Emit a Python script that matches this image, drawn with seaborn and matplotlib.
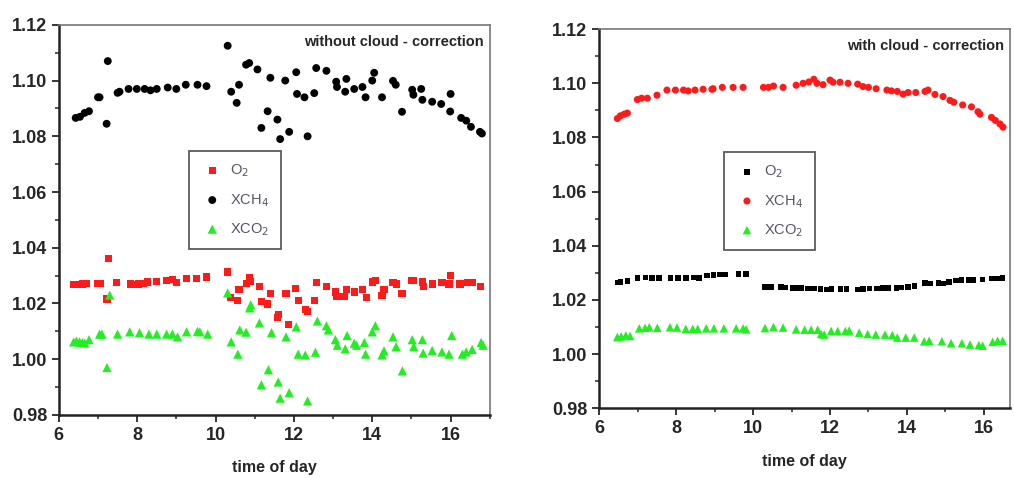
import numpy as np
import pandas as pd
import matplotlib.pyplot as plt
import seaborn as sns
from matplotlib.ticker import MultipleLocator, FormatStrFormatter

# ---- левая панель: без облачной коррекции ----
t_ch4_l = [6.43, 6.54, 6.66, 6.77, 7.0, 7.04, 7.25, 7.22, 7.5, 7.55, 7.78, 7.99, 8.19, 8.34,
           8.5, 8.78, 9.0, 9.24, 9.54, 9.77, 10.31, 10.4, 10.54, 10.6, 10.78, 10.86, 11.07,
           11.17, 11.33, 11.4, 11.58, 11.65, 11.78, 11.88, 12.06, 12.08, 12.27, 12.35, 12.52,
           12.57, 12.83, 13.08, 13.1, 13.31, 13.34, 13.54, 13.75, 13.83, 14.0, 14.05, 14.25,
           14.53, 14.6, 14.76, 15.02, 15.05, 15.25, 15.28, 15.53, 15.76, 15.99, 16.0, 16.27,
           16.4, 16.52, 16.75, 16.8]
ch4_l = [1.0866, 1.087, 1.0884, 1.089, 1.094, 1.094, 1.107, 1.0845, 1.0956, 1.096, 1.097,
         1.097, 1.097, 1.0965, 1.097, 1.0975, 1.097, 1.0985, 1.0985, 1.098, 1.1125, 1.096,
         1.092, 1.0985, 1.1057, 1.1063, 1.104, 1.083, 1.089, 1.101, 1.086, 1.079, 1.1,
         1.0816, 1.103, 1.0952, 1.094, 1.080, 1.0955, 1.1045, 1.1035, 1.0996, 1.0977, 1.096,
         1.1006, 1.097, 1.0977, 1.094, 1.1, 1.1028, 1.094, 1.0999, 1.0985, 1.0888, 1.0967,
         1.0949, 1.097, 1.0931, 1.0924, 1.0916, 1.0889, 1.0952, 1.0866, 1.0856, 1.0834,
         1.0816, 1.081]

t_o2_l = [6.38, 6.45, 6.53, 6.6, 6.7, 7.0, 7.06, 7.23, 7.28, 7.48, 7.83, 7.9, 8.04, 8.15,
          8.27, 8.5, 8.75, 8.9, 9.0, 9.26, 9.52, 9.77, 10.31, 10.38, 10.57, 10.6, 10.8, 10.87,
          10.9, 11.12, 11.17, 11.33, 11.4, 11.58, 11.6, 11.8, 11.86, 12.04, 12.11, 12.29,
          12.35, 12.52, 12.57, 12.83, 13.06, 13.1, 13.3, 13.34, 13.54, 13.75, 13.85, 14.0,
          14.08, 14.25, 14.3, 14.53, 14.61, 14.76, 15.0, 15.06, 15.28, 15.3, 15.53, 15.78,
          15.96, 16.0, 16.24, 16.43, 16.56, 16.77]
o2_l = [1.0267, 1.0267, 1.0268, 1.027, 1.0272, 1.0272, 1.0272, 1.0216, 1.036, 1.0274,
        1.027, 1.0268, 1.027, 1.0272, 1.0277, 1.028, 1.0282, 1.0285, 1.0274, 1.0291, 1.029,
        1.0295, 1.0313, 1.022, 1.021, 1.0249, 1.0273, 1.0293, 1.0279, 1.026, 1.0206,
        1.0198, 1.0237, 1.015, 1.016, 1.0237, 1.0126, 1.0255, 1.021, 1.0177, 1.017, 1.021,
        1.0274, 1.026, 1.0241, 1.0226, 1.0226, 1.025, 1.0241, 1.025, 1.0223, 1.0277,
        1.0282, 1.023, 1.025, 1.0274, 1.027, 1.0237, 1.0282, 1.0282, 1.0277, 1.026, 1.027,
        1.0274, 1.027, 1.0302, 1.027, 1.0274, 1.0274, 1.0262]

t_co2_l = [6.38, 6.45, 6.53, 6.6, 6.66, 6.77, 7.04, 7.1, 7.3, 7.23, 7.5, 7.81, 8.06, 8.3,
           8.5, 8.75, 8.9, 9.03, 9.26, 9.54, 9.6, 9.8, 10.31, 10.4, 10.57, 10.62, 10.78,
           10.87, 10.9, 11.12, 11.17, 11.35, 11.43, 11.6, 11.65, 11.8, 11.88, 12.06, 12.11,
           12.29, 12.35, 12.55, 12.6, 12.83, 12.88, 13.06, 13.11, 13.31, 13.36, 13.54, 13.6,
           13.8, 13.83, 14.0, 14.08, 14.25, 14.3, 14.53, 14.61, 14.77, 15.02, 15.06, 15.28,
           15.3, 15.53, 15.78, 15.96, 16.03, 16.3, 16.4, 16.55, 16.78, 16.83]
co2_l = [1.0062, 1.0065, 1.0062, 1.006, 1.0058, 1.007, 1.009, 1.009, 1.023, 0.997, 1.009,
         1.0098, 1.0095, 1.009, 1.009, 1.009, 1.009, 1.008, 1.0098, 1.010, 1.0098, 1.009,
         1.0238, 1.0062, 1.0018, 1.0105, 1.0097, 1.0184, 1.0195, 1.013, 0.9908, 0.9962,
         1.0095, 0.9918, 0.986, 1.008, 0.988, 1.0116, 1.0018, 1.0015, 0.985, 1.0025, 1.0137,
         1.012, 1.0105, 1.007, 1.005, 1.0037, 1.0085, 1.0057, 1.005, 1.006, 1.0018, 1.0098,
         1.012, 1.0015, 1.003, 1.008, 1.0045, 0.9958, 1.007, 1.0045, 1.007, 1.0022, 1.0031,
         1.0026, 1.0018, 1.0085, 1.0018, 1.0026, 1.0035, 1.006, 1.005]

# ---- правая панель: с облачной коррекцией ----
t_ch4_r = [6.47, 6.55, 6.65, 6.73, 6.99, 7.1, 7.25, 7.5, 7.76, 7.98, 8.19, 8.31, 8.49, 8.7,
           8.93, 8.96, 9.2, 9.48, 9.74, 10.27, 10.4, 10.53, 10.78, 11.12, 11.3, 11.45, 11.58,
           11.66, 11.82, 12.0, 12.08, 12.26, 12.47, 12.72, 12.86, 13.0, 13.2, 13.48, 13.6,
           13.75, 13.9, 14.03, 14.23, 14.47, 14.55, 14.73, 14.94, 15.12, 15.22, 15.45, 15.68,
           15.85, 15.9, 16.2, 16.3, 16.42, 16.5]
ch4_r = [1.087, 1.088, 1.0886, 1.089, 1.094, 1.0945, 1.0945, 1.0956, 1.0975, 1.0975, 1.0975,
         1.0972, 1.0975, 1.0978, 1.0978, 1.098, 1.0985, 1.0985, 1.0985, 1.0985, 1.0985,
         1.099, 1.0985, 1.0993, 1.1, 1.1005, 1.1015, 1.1, 1.0995, 1.1012, 1.1004, 1.1004,
         1.1, 1.0997, 1.0988, 1.0985, 1.098, 1.0975, 1.0972, 1.097, 1.096, 1.0966, 1.0966,
         1.097, 1.0975, 1.0959, 1.0951, 1.0937, 1.093, 1.092, 1.0913, 1.0895, 1.0886,
         1.0874, 1.0863, 1.085, 1.0838]

t_o2_r = [6.47, 6.55, 6.73, 6.99, 7.2, 7.37, 7.55, 7.85, 8.05, 8.25, 8.45, 8.6, 8.8, 8.97,
          9.14, 9.28, 9.62, 9.82, 10.31, 10.39, 10.47, 10.73, 10.84, 11.04, 11.13, 11.25,
          11.43, 11.58, 11.75, 11.92, 12.04, 12.27, 12.43, 12.72, 12.86, 13.03, 13.22, 13.36,
          13.51, 13.73, 13.86, 14.03, 14.2, 14.47, 14.6, 14.82, 14.95, 15.1, 15.27, 15.42,
          15.6, 15.73, 15.97, 16.2, 16.35, 16.49]
o2_r = [1.0265, 1.0266, 1.027, 1.028, 1.0283, 1.028, 1.028, 1.028, 1.028, 1.028, 1.0283,
        1.028, 1.029, 1.0292, 1.0294, 1.0294, 1.0296, 1.0296, 1.0247, 1.0247, 1.0247,
        1.0247, 1.0246, 1.0245, 1.0245, 1.0244, 1.0242, 1.0242, 1.0241, 1.0239, 1.024,
        1.024, 1.024, 1.0239, 1.024, 1.0242, 1.0242, 1.0243, 1.0243, 1.0245, 1.0246,
        1.0248, 1.0251, 1.0262, 1.026, 1.0262, 1.026, 1.0266, 1.0272, 1.0274, 1.0274,
        1.0274, 1.0276, 1.0279, 1.0279, 1.028]

t_co2_r = [6.47, 6.57, 6.69, 6.8, 7.04, 7.19, 7.3, 7.51, 7.84, 8.02, 8.25, 8.43, 8.56, 8.78,
           8.98, 9.24, 9.56, 9.74, 9.82, 10.31, 10.53, 10.78, 11.12, 11.34, 11.51, 11.68,
           11.77, 11.85, 12.03, 12.2, 12.4, 12.5, 12.76, 12.98, 13.19, 13.43, 13.62, 13.75,
           13.97, 14.19, 14.45, 14.58, 14.91, 15.15, 15.43, 15.64, 15.87, 15.97, 16.23, 16.36,
           16.49]
co2_r = [1.0063, 1.0065, 1.0069, 1.0067, 1.0095, 1.0097, 1.0099, 1.0097, 1.0099, 1.0098,
         1.0093, 1.0093, 1.0093, 1.0095, 1.0095, 1.0095, 1.0095, 1.0095, 1.0091, 1.0096,
         1.010, 1.0098, 1.0091, 1.009, 1.009, 1.009, 1.0074, 1.0072, 1.0085, 1.0085,
         1.0085, 1.0087, 1.0079, 1.0074, 1.0072, 1.0072, 1.007, 1.0061, 1.0061, 1.0061,
         1.0047, 1.0049, 1.0047, 1.004, 1.004, 1.0035, 1.0033, 1.0031, 1.0045, 1.0049,
         1.0049]

labels = ['O$_2$', 'XCH$_4$', 'XCO$_2$']
titles = ['without cloud - correction', 'with cloud - correction']

sns.set_style('white')
plt.rcParams['font.family'] = ['Liberation Sans', 'DejaVu Sans']

fig = plt.figure(figsize=(10.14, 4.78), dpi=100)
ax1 = fig.add_axes([0.058, 0.132, 0.425, 0.816])
ax2 = fig.add_axes([0.591, 0.146, 0.405, 0.793])


def draw(ax, series, title, xmax, leg_pos):
    for (t, v, color, marker, size), lab in zip(series, labels):
        sns.scatterplot(x=t, y=v, ax=ax, color=color, marker=marker, s=size,
                        edgecolor='none', label=lab)
    ax.set_xlim(6, xmax)
    ax.set_ylim(0.98, 1.12)
    ax.xaxis.set_major_locator(MultipleLocator(2))
    ax.xaxis.set_minor_locator(MultipleLocator(1))
    ax.yaxis.set_major_locator(MultipleLocator(0.02))
    ax.yaxis.set_minor_locator(MultipleLocator(0.01))
    ax.yaxis.set_major_formatter(FormatStrFormatter('%.2f'))
    ax.tick_params(which='major', direction='out', length=5, width=1.3,
                   labelsize=13, bottom=True, left=True)
    ax.tick_params(which='minor', direction='out', length=3, width=1.1,
                   bottom=True, left=True)
    for lbl in ax.get_xticklabels() + ax.get_yticklabels():
        lbl.set_fontweight('bold')
    for side in ['left', 'bottom']:
        ax.spines[side].set_color('#222222')
        ax.spines[side].set_linewidth(1.8)
    for side in ['top', 'right']:
        ax.spines[side].set_color('#777777')
        ax.spines[side].set_linewidth(1.2)
    ax.set_xlabel('time of day', fontsize=11.5, fontweight='bold', labelpad=12)
    ax.set_ylabel('')
    ax.text(0.985, 0.955, title, transform=ax.transAxes, ha='right', va='center',
            fontsize=10.5, fontweight='heavy')
    leg = ax.legend(loc='upper left', bbox_to_anchor=leg_pos, frameon=True,
                    fancybox=False, edgecolor='#333333', fontsize=10.5,
                    labelcolor='#555566', handletextpad=0.4, labelspacing=0.85,
                    borderpad=0.8, markerscale=1.0, handlelength=1.6)
    leg.get_frame().set_linewidth(1.3)


draw(ax1, [(t_o2_l, o2_l, '#ff1a1a', 's', 26),
           (t_ch4_l, ch4_l, 'black', 'o', 32),
           (t_co2_l, co2_l, '#22ee22', '^', 44)],
     titles[0], 17.0, (0.285, 0.695))

draw(ax2, [(t_o2_r, o2_r, 'black', 's', 16),
           (t_ch4_r, ch4_r, '#ff1a1a', 'o', 26),
           (t_co2_r, co2_r, '#22ee22', '^', 38)],
     titles[1], 16.68, (0.285, 0.695))

plt.savefig('out.png', dpi=100)
